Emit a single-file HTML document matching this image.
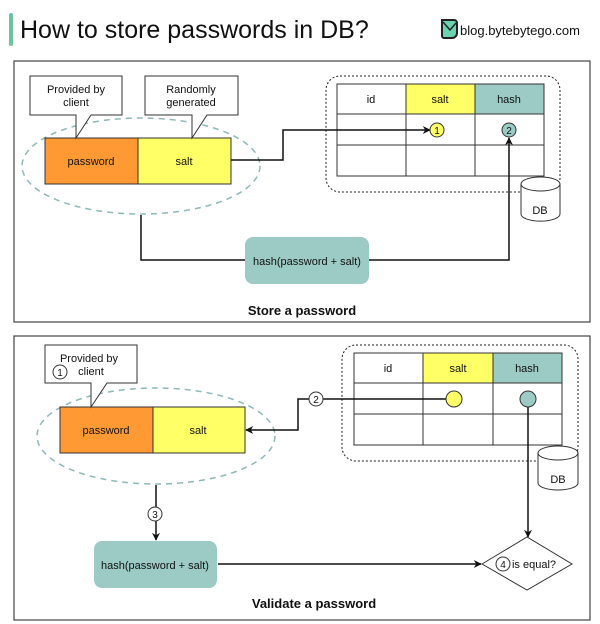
<!DOCTYPE html>
<html><head><meta charset="utf-8"><style>
html,body{margin:0;padding:0;background:#fff;}
svg{display:block;}
text{font-family:"Liberation Sans",sans-serif;fill:#111;}
</style></head><body>
<svg width="600" height="624" viewBox="0 0 600 624" xmlns="http://www.w3.org/2000/svg">
<defs>
<marker id="ar" viewBox="0 0 10 10" refX="9" refY="5" markerWidth="8" markerHeight="8" orient="auto-start-reverse" markerUnits="userSpaceOnUse">
<path d="M0,0 L10,5 L0,10 L3,5 z" fill="#111"/></marker>
</defs>
<rect x="0" y="0" width="600" height="624" fill="#fff"/>
<rect x="9" y="13" width="4" height="33" rx="2" fill="#6cc3a0"/>
<text x="20" y="38" font-size="25">How to store passwords in DB?</text>
<g transform="translate(440,18)">
<path d="M2,2 h12 a3,3 0 0 1 3,3 v10 a5,5 0 0 1 -5,5 h-8 a2,2 0 0 1 -2,-2 z" fill="#6cd3b0" stroke="#222" stroke-width="2"/>
<path d="M3,4 l7,8 l6,-7" fill="none" stroke="#222" stroke-width="1.5"/>
</g>
<text x="460" y="35" font-size="13">blog.bytebytego.com</text>

<!-- Panel 1 -->
<rect x="14" y="61" width="576" height="261" fill="none" stroke="#444" stroke-width="1.2"/>
<ellipse cx="141" cy="166" rx="119" ry="48" fill="none" stroke="#8fb8b8" stroke-width="1.5" stroke-dasharray="6,5"/>
<rect x="45" y="138" width="93" height="46" fill="#ff9933" stroke="#333"/>
<rect x="138" y="138" width="93" height="46" fill="#ffff66" stroke="#333"/>
<text x="91" y="165" font-size="11" text-anchor="middle">password</text>
<text x="184" y="165" font-size="11" text-anchor="middle">salt</text>
<path d="M30,76 H122 V115 H91 L76,138 V115 H30 Z" fill="#fff" stroke="#333"/>
<text x="76" y="93" font-size="11" text-anchor="middle">Provided by</text>
<text x="76" y="106" font-size="11" text-anchor="middle">client</text>
<path d="M145,76 H238 V115 H207 L192,138 V115 H145 Z" fill="#fff" stroke="#333"/>
<text x="191" y="93" font-size="11" text-anchor="middle">Randomly</text>
<text x="191" y="106" font-size="11" text-anchor="middle">generated</text>
<rect x="326" y="76" width="234" height="116" rx="14" fill="none" stroke="#222" stroke-dasharray="2,2"/>
<rect x="406" y="84" width="69" height="30" fill="#ffff66"/>
<rect x="475" y="84" width="69" height="30" fill="#9ccbc5"/>
<rect x="337" y="84" width="207" height="92" fill="none" stroke="#333"/>
<path d="M406,84 V176 M475,84 V176 M337,114 H544 M337,145 H544" stroke="#333"/>
<text x="371" y="103" font-size="11" text-anchor="middle">id</text>
<text x="440" y="103" font-size="11" text-anchor="middle">salt</text>
<text x="509" y="103" font-size="11" text-anchor="middle">hash</text>
<path d="M231,160 H283 V130 H430" fill="none" stroke="#111" stroke-width="1.5" marker-end="url(#ar)"/>
<circle cx="437" cy="130" r="7" fill="#ffff66" stroke="#333"/>
<text x="437" y="134" font-size="10" text-anchor="middle">1</text>
<circle cx="509" cy="130" r="7" fill="#9ccbc5" stroke="#333"/>
<text x="509" y="134" font-size="10" text-anchor="middle">2</text>
<path d="M521,184 v30 a19,7 0 0 0 39,0 v-30" fill="#fff" stroke="#333"/>
<ellipse cx="540.5" cy="184" rx="19.5" ry="7" fill="#fff" stroke="#333"/>
<text x="540" y="214" font-size="11" text-anchor="middle">DB</text>
<path d="M141,215 V260 H245" fill="none" stroke="#111" stroke-width="1.5"/>
<path d="M369,260 H509 V138" fill="none" stroke="#111" stroke-width="1.5" marker-end="url(#ar)"/>
<rect x="245" y="237" width="124" height="47" rx="8" fill="#9ccbc5"/>
<text x="307" y="265" font-size="11" text-anchor="middle">hash(password + salt)</text>
<text x="302" y="315" font-size="13" font-weight="bold" text-anchor="middle">Store a password</text>

<!-- Panel 2 -->
<rect x="14" y="336" width="576" height="284" fill="none" stroke="#444" stroke-width="1.2"/>
<ellipse cx="156" cy="436" rx="119" ry="48" fill="none" stroke="#8fb8b8" stroke-width="1.5" stroke-dasharray="6,5"/>
<rect x="60" y="407" width="93" height="46" fill="#ff9933" stroke="#333"/>
<rect x="153" y="407" width="92" height="46" fill="#ffff66" stroke="#333"/>
<text x="106" y="434" font-size="11" text-anchor="middle">password</text>
<text x="198" y="434" font-size="11" text-anchor="middle">salt</text>
<path d="M45,345 H137 V383 H107 L91,407 V383 H45 Z" fill="#fff" stroke="#333"/>
<text x="89" y="362" font-size="11" text-anchor="middle">Provided by</text>
<text x="91" y="375" font-size="11" text-anchor="middle">client</text>
<circle cx="60" cy="372" r="7" fill="#fff" stroke="#333"/>
<text x="60" y="376" font-size="10" text-anchor="middle">1</text>
<rect x="342" y="345" width="236" height="116" rx="14" fill="none" stroke="#222" stroke-dasharray="2,2"/>
<rect x="423" y="353" width="70" height="30" fill="#ffff66"/>
<rect x="493" y="353" width="69" height="30" fill="#9ccbc5"/>
<rect x="354" y="353" width="208" height="92" fill="none" stroke="#333"/>
<path d="M423,353 V445 M493,353 V445 M354,383 H562 M354,414 H562" stroke="#333"/>
<text x="388" y="372" font-size="11" text-anchor="middle">id</text>
<text x="458" y="372" font-size="11" text-anchor="middle">salt</text>
<text x="527" y="372" font-size="11" text-anchor="middle">hash</text>
<path d="M454,399 H298 V430 H246" fill="none" stroke="#111" stroke-width="1.5" marker-end="url(#ar)"/>
<circle cx="454" cy="399" r="8" fill="#ffff66" stroke="#333"/>
<circle cx="316" cy="399" r="7" fill="#fff" stroke="#333"/>
<text x="316" y="403" font-size="10" text-anchor="middle">2</text>
<path d="M528,399 V537" fill="none" stroke="#111" stroke-width="1.5" marker-end="url(#ar)"/>
<circle cx="528" cy="399" r="8" fill="#9ccbc5" stroke="#333"/>
<path d="M538,453 v30 a20,7 0 0 0 40,0 v-30" fill="#fff" stroke="#333"/>
<ellipse cx="558" cy="453" rx="20" ry="7" fill="#fff" stroke="#333"/>
<text x="558" y="483" font-size="11" text-anchor="middle">DB</text>
<path d="M482,564 L527,537 L572,564 L527,590 Z" fill="#fff" stroke="#333"/>
<circle cx="503" cy="564" r="7" fill="#fff" stroke="#333"/>
<text x="503" y="568" font-size="10" text-anchor="middle">4</text>
<text x="534" y="568" font-size="11" text-anchor="middle">is equal?</text>
<path d="M156,485 V540" fill="none" stroke="#111" stroke-width="1.5" marker-end="url(#ar)"/>
<circle cx="155" cy="514" r="7" fill="#fff" stroke="#333"/>
<text x="155" y="518" font-size="10" text-anchor="middle">3</text>
<rect x="94" y="541" width="123" height="47" rx="8" fill="#9ccbc5"/>
<text x="155" y="569" font-size="11" text-anchor="middle">hash(password + salt)</text>
<path d="M218,564 H481" fill="none" stroke="#111" stroke-width="1.5" marker-end="url(#ar)"/>
<text x="314" y="608" font-size="13" font-weight="bold" text-anchor="middle">Validate a password</text>
</svg>
</body></html>
